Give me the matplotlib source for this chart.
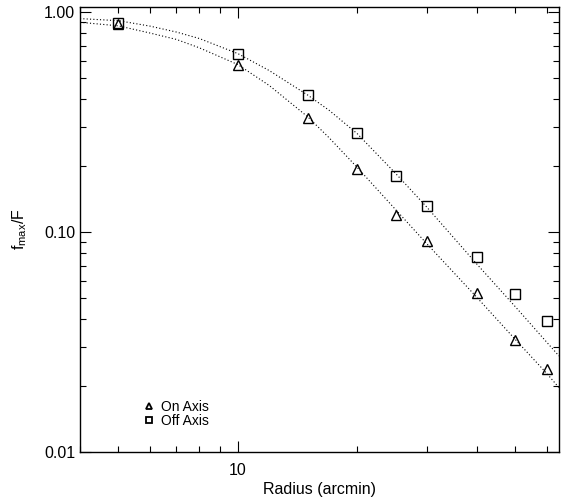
import matplotlib
matplotlib.use('Agg')
import matplotlib.pyplot as plt
from matplotlib.ticker import FixedLocator, FormatStrFormatter, NullFormatter, LogLocator

plt.rcParams['font.family'] = 'Liberation Sans'
plt.rcParams['mathtext.fontset'] = 'custom'
plt.rcParams['mathtext.rm'] = 'Liberation Sans'
plt.rcParams['mathtext.it'] = 'Liberation Sans'

# measured points
radius = [5, 10, 15, 20, 25, 30, 40, 50, 60]
on_axis = [0.875, 0.57, 0.328, 0.192, 0.119, 0.091, 0.0525, 0.0322, 0.0237]
off_axis = [0.89, 0.64, 0.42, 0.282, 0.18, 0.131, 0.0765, 0.0523, 0.0393]

# dotted model curves
curve_r = [4, 5, 6, 7, 8, 10, 12, 15, 17, 20, 25, 30, 40, 50, 60, 64.5]
curve_on = [0.895, 0.862, 0.80, 0.748, 0.685, 0.575, 0.462, 0.333, 0.267, 0.196,
            0.126, 0.088, 0.0505, 0.0325, 0.0228, 0.0196]
curve_off = [0.93, 0.91, 0.86, 0.808, 0.755, 0.645, 0.54, 0.418, 0.356, 0.279,
             0.184, 0.129, 0.0715, 0.0458, 0.0316, 0.0273]

fig = plt.figure(figsize=(5.67, 5.0), dpi=100)
ax = fig.add_axes([80 / 567, 1 - 452 / 500, 479 / 567, 445 / 500])

dots = (0, (1, 2))
ax.plot(curve_r, curve_on, color='black', lw=0.8, ls=dots)
ax.plot(curve_r, curve_off, color='black', lw=0.8, ls=dots)
ax.plot(radius, on_axis, ls='none', marker='^', ms=7, mfc='none', mec='black',
        mew=1.0, label='On Axis')
ax.plot(radius, off_axis, ls='none', marker='s', ms=7, mfc='none', mec='black',
        mew=1.0, label='Off Axis')

ax.set_xscale('log')
ax.set_yscale('log')
ax.set_xlim(4, 64.5)
ax.set_ylim(0.01, 1.05)

ax.xaxis.set_major_locator(FixedLocator([10]))
ax.xaxis.set_major_formatter(FormatStrFormatter('%d'))
ax.xaxis.set_minor_locator(LogLocator(base=10, subs=range(2, 10)))
ax.xaxis.set_minor_formatter(NullFormatter())
ax.yaxis.set_major_locator(FixedLocator([0.01, 0.1, 1.0]))
ax.yaxis.set_major_formatter(FormatStrFormatter('%.2f'))
ax.yaxis.set_minor_locator(LogLocator(base=10, subs=range(2, 10)))
ax.yaxis.set_minor_formatter(NullFormatter())

ax.tick_params(which='both', direction='in', top=True, right=True, width=0.8,
               labelsize=11.5, colors='black')
ax.tick_params(which='major', length=8)
ax.tick_params(which='minor', length=4.5)
ax.tick_params(axis='x', which='major', pad=8)
ax.tick_params(axis='y', which='major', pad=3.5)
for s in ax.spines.values():
    s.set_linewidth(1.0)

ax.set_xlabel('Radius (arcmin)', fontsize=11.5, labelpad=3)
ax.set_ylabel(r'f$_{\rm max}$/F', fontsize=11.5)
ax.yaxis.set_label_coords(-0.106, 0.5)

leg = ax.legend(loc='upper left', bbox_to_anchor=(0.132, 0.117), frameon=False,
                fontsize=10, markerscale=0.62, handlelength=0.8, handletextpad=0.5,
                labelspacing=0.0, borderpad=0, borderaxespad=0)
for h in leg.legend_handles:
    h.set_markeredgewidth(1.3)

fig.savefig('out.png', dpi=100)
